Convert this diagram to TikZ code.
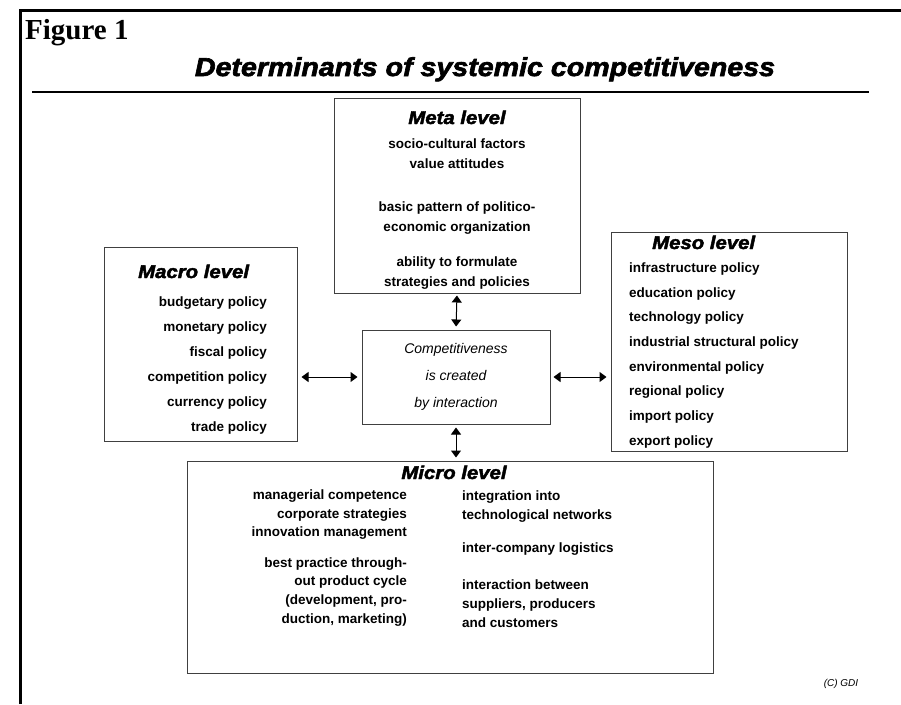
\documentclass[tikz,border=0pt]{standalone}
\usepackage{fontspec}
\setmainfont{Liberation Serif}
\setsansfont{Liberation Sans}
\newfontfamily\heavyfont{Liberation Sans}[BoldItalicFeatures={FakeBold=2.5,FakeStretch=1.1}]
\usetikzlibrary{arrows.meta}
\tikzset{>={Triangle[length=7pt,width=10pt]}}
\tikzset{
  levelbox/.style={draw=black!75, line width=1pt, inner sep=0pt},
  heading/.style={font=\heavyfont\bfseries\itshape\fontsize{18.5}{20}\selectfont, inner sep=0pt},
  items/.style={font=\sffamily\bfseries\fontsize{13.5}{25}\selectfont, inner sep=0pt},
  link/.style={<->, line width=1pt},
}

\begin{document}
\begin{tikzpicture}[x=1pt,y=-1pt]
\useasboundingbox (0,0) rectangle (901,704);
% page frame and title
\draw[line width=3pt] (20,704) -- (20,10) -- (901,10);
\node[anchor=base west, inner sep=0pt, font=\rmfamily\bfseries\fontsize{29}{30}\selectfont] (fig) at (25,39) {Figure 1};
\node[anchor=base, inner sep=0pt, font=\heavyfont\bfseries\itshape\fontsize{26}{28}\selectfont] (title) at (485,76) {Determinants of systemic competitiveness};
\draw[line width=1.2pt] (32,92) -- (869,92);

% the five boxes
\node[levelbox, minimum width=246pt, minimum height=195pt] (meta) at (457,195.5) {};
\node[levelbox, minimum width=193pt, minimum height=194pt] (macro) at (200.5,344) {};
\node[levelbox, minimum width=236pt, minimum height=219pt] (meso) at (729,341.5) {};
\node[levelbox, minimum width=188pt, minimum height=94pt] (core) at (456,377) {};
\node[levelbox, minimum width=526pt, minimum height=212pt] (micro) at (450,567) {};

% meta level
\node[heading, anchor=base] (metahead) at (457,124) {Meta level};
\node[items, anchor=north, align=center, font=\sffamily\bfseries\fontsize{13.5}{20}\selectfont] (metatext) at (457,139)
  {socio-cultural factors\\value attitudes\\[23pt]basic pattern of politico-\\economic organization\\[15pt]ability to formulate\\strategies and policies};

% macro level
\node[heading, anchor=base west] (macrohead) at (138,278) {Macro level};
\node[items, anchor=north east, align=right] (macrotext) at (267,296.5)
  {budgetary policy\\monetary policy\\fiscal policy\\competition policy\\currency policy\\trade policy};

% meso level
\node[heading, anchor=base west] (mesohead) at (652,249) {Meso level};
\node[items, anchor=north west, align=left, font=\sffamily\bfseries\fontsize{13.5}{24.7}\selectfont] (mesotext) at (629,262.5)
  {infrastructure policy\\education policy\\technology policy\\industrial structural policy\\environmental policy\\regional policy\\import policy\\export policy};

% centre
\node[anchor=north, inner sep=0pt, align=center, font=\sffamily\itshape\fontsize{14}{27}\selectfont] (coretext) at (456,343)
  {Competitiveness\\is created\\by interaction};

% micro level
\node[heading, anchor=base] (microhead) at (454,479) {Micro level};
\node[items, anchor=north east, align=right, font=\sffamily\bfseries\fontsize{13.5}{18.7}\selectfont] (microleft) at (407,489.5)
  {managerial competence\\corporate strategies\\innovation management\\[11.5pt]best practice through-\\out product cycle\\(development, pro-\\duction, marketing)};
\node[items, anchor=north west, align=left, font=\sffamily\bfseries\fontsize{13.5}{18.7}\selectfont] (microright) at (462,491)
  {integration into\\technological networks\\[14.3pt]inter-company logistics\\[18.3pt]interaction between\\suppliers, producers\\and customers};

\node[anchor=base, inner sep=0pt, font=\sffamily\itshape\fontsize{10}{12}\selectfont] (gdi) at (841,686) {(C) GDI};

% interaction arrows
\draw[link, shorten <=2pt, shorten >=3pt] (meta.south) -- (core.north);
\draw[link, shorten <=4pt, shorten >=4pt] (core.west) -- (core.west -| macro.east);
\draw[link, shorten <=3pt, shorten >=4pt] (core.east) -- (core.east -| meso.west);
\draw[link, shorten <=3pt, shorten >=3pt] (core.south) -- (core.south |- micro.north);
\end{tikzpicture}
\end{document}
